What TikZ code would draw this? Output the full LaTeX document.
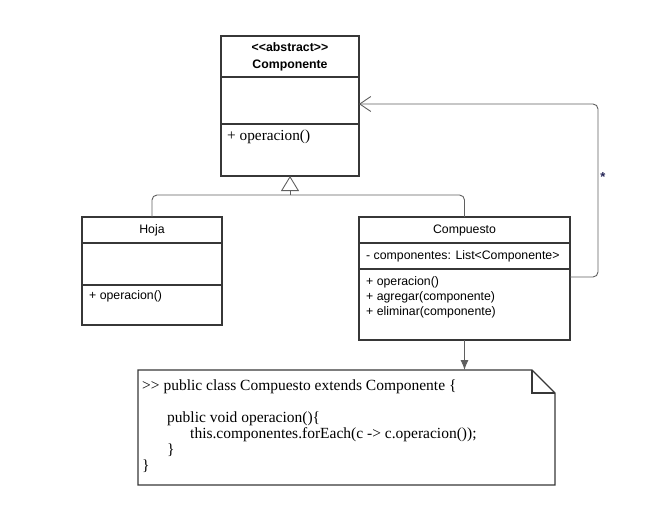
\documentclass[tikz,border=0pt]{standalone}
\usepackage{fontspec}
\setmainfont{Liberation Serif}
\setsansfont{Liberation Sans}
\usetikzlibrary{arrows.meta}
\usetikzlibrary{positioning}
\usetikzlibrary{calc}
\definecolor{lineGray}{RGB}{55,55,55}
\definecolor{linkGray}{RGB}{95,95,95}
\definecolor{starBlue}{RGB}{35,35,85}
\tikzstyle{normalLine}=[line width=1.2pt,draw=lineGray]
\tikzstyle{thinLine}=[line width=.9pt,draw=linkGray]
\tikzstyle{Box}=[normalLine,rectangle,inner sep=0pt,outer sep=0pt,anchor=north west]
\tikzstyle{Title}=[font=\sffamily\fontsize{12.3}{14}\selectfont]
\tikzstyle{Member}=[font=\sffamily\fontsize{12.3}{15}\selectfont,anchor=north west,inner sep=0pt,align=left]
\tikzstyle{Code}=[font=\fontsize{15.5}{16}\selectfont,anchor=base west,inner sep=0pt]
\tikzstyle{Inherit}=[thinLine,rounded corners=5pt]
\tikzstyle{Assoc}=[thinLine,rounded corners=5pt,-{Straight Barb[length=11pt,width=15pt,line width=.9pt]}]
\tikzstyle{Depend}=[thinLine,-{Latex[length=10pt,width=8pt]}]

\begin{document}
\begin{tikzpicture}[x=1pt,y=-1pt]

  \useasboundingbox (0,0) rectangle (652,513);

  % Componente
  \node[Box,minimum width=138pt,minimum height=41pt] (compHead) at (221,36) {};
  \node[Box,minimum width=138pt,minimum height=47pt] (compAttr) at (compHead.south west) {};
  \node[Box,minimum width=138pt,minimum height=52pt] (compOps) at (compAttr.south west) {};
  \node[Title,align=center,font=\sffamily\bfseries\fontsize{12.3}{17}\selectfont] (compName) at (compHead.center) {{<}{<}abstract{>}{>}\\Componente};
  \node[anchor=north west,inner sep=0pt,font=\fontsize{15.3}{16}\selectfont] (compOpList) at ($(compOps.north west)+(6,6)$) {+ operacion()};

  % Hoja
  \node[Box,minimum width=140pt,minimum height=26pt] (hojaHead) at (82,217) {};
  \node[Box,minimum width=140pt,minimum height=42pt] (hojaAttr) at (hojaHead.south west) {};
  \node[Box,minimum width=140pt,minimum height=40pt] (hojaOps) at (hojaAttr.south west) {};
  \node[Title] (hojaName) at (hojaHead.center) {Hoja};
  \node[Member] (hojaOpList) at ($(hojaOps.north west)+(7,5)$) {+ operacion()};

  % Compuesto
  \node[Box,minimum width=211pt,minimum height=26pt] (compuHead) at (359,217) {};
  \node[Box,minimum width=211pt,minimum height=26pt] (compuAttr) at (compuHead.south west) {};
  \node[Box,minimum width=211pt,minimum height=71pt] (compuOps) at (compuAttr.south west) {};
  \node[Title] (compuName) at (compuHead.center) {Compuesto};
  \node[Member] (compuAttrList) at ($(compuAttr.west)+(7,-6)$) {- componentes: List<Componente>};
  \node[Member] (compuOpList) at ($(compuOps.north west)+(7,7)$) {+ operacion()\\+ agregar(componente)\\+ eliminar(componente)};

  % Generalization
  \coordinate (joint) at (290,195);
  \draw[Inherit] (hojaHead.north) |- (joint) -| (compuHead.north);
  \draw[thinLine,-{Triangle[open,length=15pt,width=18pt,line width=.9pt]}] (joint) -- (compOps.south);

  % Association
  \coordinate (assocTurn) at (598,104);
  \draw[Assoc] ($(compuOps.north east)+(0,8)$) -| (assocTurn) -- (compAttr.east |- assocTurn);
  \node[text=starBlue,font=\sffamily\bfseries\fontsize{13}{13}\selectfont] (mult) at (603,177) {*};

  % Note
  \node[anchor=north west,minimum width=417pt,minimum height=115pt,inner sep=0pt,outer sep=0pt] (noteBody) at (138,370) {};
  \draw[normalLine] (noteBody.north west) -- ($(noteBody.north east)+(-23,0)$)
    -- ($(noteBody.north east)+(0,23)$) -- (noteBody.south east) -- (noteBody.south west) -- cycle;
  \draw[normalLine] ($(noteBody.north east)+(-23,0)$) |- ($(noteBody.north east)+(0,23)$);
  \draw[Depend] (compuOps.south) -- (compuOps.south |- noteBody.north);

  % Code
  \node[Code] (codeA) at (142,390) {{>}{>} public class Compuesto extends Componente \{};
  \node[Code] (codeB) at (167,422) {public void operacion()\{};
  \node[Code] (codeC) at (190,438) {this.componentes.forEach(c -> c.operacion());};
  \node[Code] (codeD) at (167,454) {\}};
  \node[Code] (codeE) at (142,470) {\}};

\end{tikzpicture}
\end{document}
